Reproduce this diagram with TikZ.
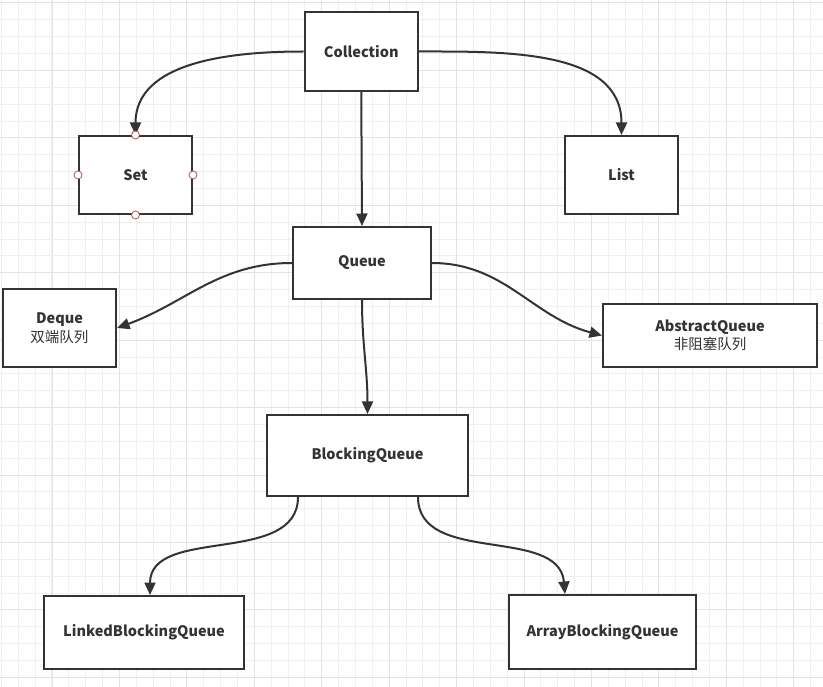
\documentclass[tikz,border=0pt]{standalone}
\usepackage{fontspec}
\setmainfont{Noto Sans CJK SC}
\usetikzlibrary{arrows.meta}
\definecolor{ink}{HTML}{333333}
\definecolor{gridminor}{HTML}{F0F0F0}
\definecolor{gridmajor}{HTML}{E3E3E3}
\definecolor{handle}{HTML}{B0505A}

\begin{document}
\begin{tikzpicture}[
    x=1pt, y=-1pt,
    font=\fontsize{14.5}{18.5}\selectfont,
    cls/.style={draw=ink, line width=2pt, fill=white, text=ink,
                align=center, inner sep=0pt},
    fl/.style={draw=ink, line width=2pt,
               -{Triangle[length=12.5pt,width=11pt]}},
    hdl/.style={circle, draw=handle, fill=white, line width=0.8pt,
                minimum size=8pt, inner sep=0pt}
]
  \useasboundingbox (0,0) rectangle (823,687);
  \fill[white] (0,0) rectangle (823,687);

  % ================= 背景网格 =================
  \foreach \i in {0,...,48}
    \draw[gridminor, line width=1pt] ({1.4+\i*16.86},0) -- ({1.4+\i*16.86},687);
  \foreach \i in {0,...,40}
    \draw[gridminor, line width=1pt] (0,{3+\i*16.86}) -- (823,{3+\i*16.86});
  \foreach \i in {0,...,11}
    \draw[gridmajor, line width=1pt] ({52+\i*67.44},0) -- ({52+\i*67.44},687);
  \foreach \i in {0,...,10}
    \draw[gridmajor, line width=1pt] (0,{3+\i*67.44}) -- (823,{3+\i*67.44});

  % ================= 第一层：Collection =================
  \node[cls, minimum width=113.5pt, minimum height=79pt] (collection) at (361.25,51.5) {\bfseries Collection};
  \node[cls, minimum width=113pt, minimum height=78pt] (set)  at (135.5,175) {\bfseries Set};
  \node[cls, minimum width=113pt, minimum height=78pt] (list) at (621.5,175) {\bfseries List};
  \node[cls, minimum width=138pt, minimum height=72pt] (queue) at (362,263) {\bfseries Queue};

  % ================= 第二层：Queue =================
  \node[cls, minimum width=113pt, minimum height=78pt] (deque) at (59.5,328) {{\bfseries Deque}\\双端队列};
  \node[cls, minimum width=214pt, minimum height=63pt] (abstract) at (710,335.5) {{\bfseries AbstractQueue}\\非阻塞队列};
  \node[cls, minimum width=201pt, minimum height=81pt] (blocking) at (367.5,455.5) {\bfseries BlockingQueue};

  % ================= 第三层：BlockingQueue =================
  \node[cls, minimum width=200pt, minimum height=73pt] (linked) at (144,632.5) {\bfseries LinkedBlockingQueue};
  \node[cls, minimum width=187pt, minimum height=74pt] (array)  at (602.5,632) {\bfseries ArrayBlockingQueue};

  % ================= 连线 =================
  \draw[fl] (collection.west) to[out=180, in=90] (set.north);
  \draw[fl] (collection.east) to[out=0, in=90] (list.north);
  \draw[fl] (collection.south) -- (queue.north);
  \draw[fl] (queue.west) to[out=180, in=20] (deque.east);
  \draw[fl] (queue.east) to[out=0, in=165] (abstract.west);
  \draw[fl] (queue.south) to[out=-90, in=90] (blocking.north);
  \draw[fl] ([xshift=-69.5pt]blocking.south) to[out=-90, in=90] ([xshift=6pt]linked.north);
  \draw[fl] ([xshift=50.5pt]blocking.south) to[out=-90, in=95] ([xshift=-37.5pt]array.north);

  % Set 的选中手柄
  \foreach \a in {north,south,east,west}
    \node[hdl] (set-\a) at (set.\a) {};

\end{tikzpicture}
\end{document}
